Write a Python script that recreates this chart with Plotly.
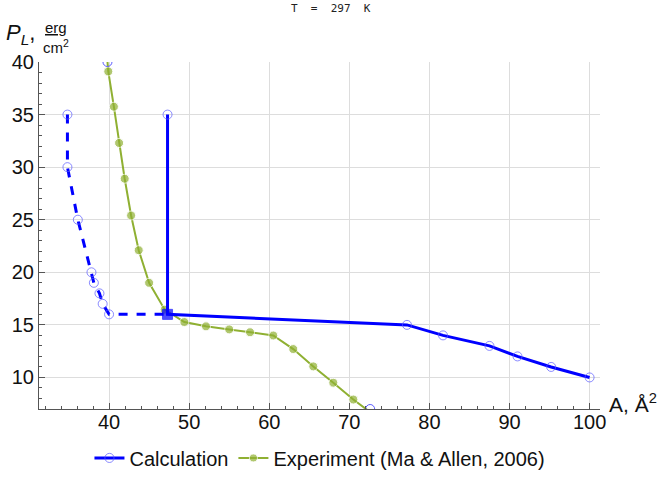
import plotly.graph_objects as go

# Calculation: dashed (metastable) branch
calc_dash_x = [34.8, 34.8, 36.1, 37.8, 38.1, 38.8, 39.2, 40.0, 47.3]
calc_dash_y = [35, 30, 25, 20, 19, 18, 17, 16, 16]
# Calculation: solid branch
calc_solid_x = [47.3, 47.3, 77.2, 81.7, 87.5, 91.0, 95.2, 100.0]
calc_solid_y = [35, 16, 15, 14, 13, 12, 11, 10]
# extra calculation markers on the plot edge
calc_edge_x = [39.8, 72.6]
calc_edge_y = [40, 7]
# Experiment (Ma & Allen, 2006)
exp_x = [39.75, 39.9, 40.6, 41.25, 41.95, 42.75, 43.7, 45.0, 46.95, 49.4, 52.1, 55.0, 57.6,
         60.5, 63.0, 65.5, 68.0, 70.5, 73.3]
exp_y = [40.5, 39.1, 35.75, 32.3, 28.9, 25.4, 22.1, 19.0, 16.45, 15.27, 14.86, 14.57, 14.3,
         13.99, 12.7, 11.05, 9.5, 7.9, 6.3]
exp_marker_size = [0] + [9] * 17 + [0]

x_ticks = [40, 50, 60, 70, 80, 90, 100]
y_ticks = [10, 15, 20, 25, 30, 35, 40]

BLUE = "#0000ff"
CIRC = "#5a5aff"
GREEN = "#8fb032"
FONT = "Liberation Sans"

fig = go.Figure()

fig.add_trace(go.Scatter(
    x=exp_x, y=exp_y, mode="lines+markers", name="Experiment (Ma & Allen, 2006)",
    line=dict(color=GREEN, width=2),
    marker=dict(color=GREEN, size=exp_marker_size, symbol="circle"),
    legendrank=2))

fig.add_trace(go.Scatter(
    x=calc_dash_x, y=calc_dash_y, mode="lines+markers", showlegend=False,
    line=dict(color=BLUE, width=3, dash="dash"),
    marker=dict(color=CIRC, size=[9] * 8 + [0], symbol="circle-open", line=dict(width=1))))

sym = ["circle-open", "square"] + ["circle-open"] * (len(calc_solid_x) - 2)
cols = [CIRC, BLUE] + [CIRC] * (len(calc_solid_x) - 2)
sizes = [9, 10] + [9] * (len(calc_solid_x) - 2)
fig.add_trace(go.Scatter(
    x=calc_solid_x, y=calc_solid_y, mode="lines+markers", name="Calculation",
    line=dict(color=BLUE, width=3),
    marker=dict(color=cols, size=sizes, symbol=sym, line=dict(width=1, color=cols)),
    legendrank=1))

fig.add_trace(go.Scatter(
    x=calc_edge_x, y=calc_edge_y, mode="markers", showlegend=False,
    marker=dict(color=CIRC, size=9, symbol="circle-open", line=dict(width=1))))

axis_common = dict(
    showline=True, linecolor="#555555", linewidth=1,
    ticks="inside", tickcolor="#555555", ticklen=6,
    showgrid=True, gridcolor="#dddddd", gridwidth=1,
    zeroline=False, tickfont=dict(family=FONT, size=20, color="#111111"),
    minor=dict(ticks="inside", ticklen=3, tickcolor="#555555", showgrid=False),
    automargin=False,
)

fig.update_xaxes(range=[31.25, 101.3], tickvals=x_ticks, ticktext=[str(v) for v in x_ticks],
                 minor_dtick=2, ticklabelstandoff=-5, **axis_common)
fig.update_yaxes(range=[7, 40], tickvals=y_ticks, ticktext=[str(v) for v in y_ticks],
                 minor_dtick=1, **axis_common)

fig.update_layout(
    width=657, height=478,
    margin=dict(l=39, r=57, t=62, b=69, autoexpand=False),
    plot_bgcolor="white", paper_bgcolor="white",
    showlegend=True,
    legend=dict(orientation="h", x=0.487, xanchor="center", xref="container",
                y=0.042, yanchor="middle", yref="container",
                font=dict(family=FONT, size=20, color="#111111"), traceorder="normal"),
    annotations=[
        dict(text="T  =  297  K", xref="paper", yref="paper", x=0.52, y=1.155,
             xanchor="center", yanchor="middle", showarrow=False,
             font=dict(family="DejaVu Sans Mono", size=11, color="#222222")),
        dict(text="<i>P</i><sub><i>L</i></sub>,", xref="paper", yref="paper",
             x=-0.062, y=1.08, xanchor="left", yanchor="middle", showarrow=False,
             font=dict(family=FONT, size=22, color="#111111")),
        dict(text="<u>erg</u>", xref="paper", yref="paper", x=0.031, y=1.10,
             xanchor="center", yanchor="middle", showarrow=False,
             font=dict(family=FONT, size=15, color="#111111")),
        dict(text="cm<sup>2</sup>", xref="paper", yref="paper", x=0.031, y=1.046,
             xanchor="center", yanchor="middle", showarrow=False,
             font=dict(family=FONT, size=15, color="#111111")),
        dict(text="A, Å<sup>2</sup>", xref="paper", yref="paper", x=1.012, y=-0.026,
             xanchor="left", yanchor="bottom", showarrow=False,
             font=dict(family=FONT, size=21, color="#111111")),
    ],
)

fig.write_html("out.html")
